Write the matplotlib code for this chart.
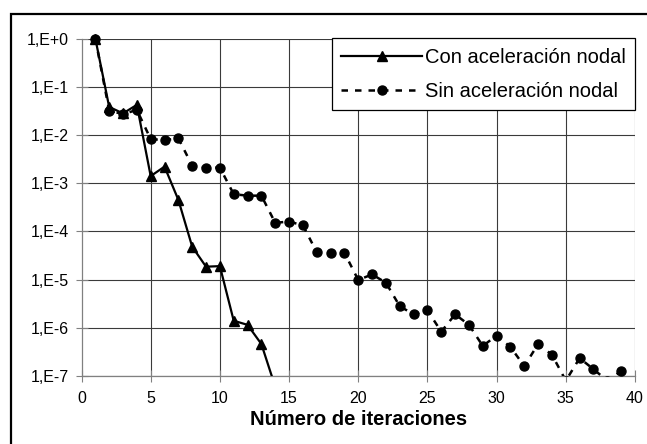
import matplotlib
matplotlib.use("Agg")
import matplotlib.pyplot as plt
from matplotlib.ticker import FixedLocator
from matplotlib.transforms import Bbox, TransformedBbox
from matplotlib.patches import Rectangle

plt.rcParams['font.family'] = ['Liberation Sans', 'DejaVu Sans']

# Data
x_con = list(range(1, 15))
y_con = [1.0, 0.038, 0.028, 0.042, 0.0014, 0.0022, 0.00045, 4.8e-5, 1.85e-5,
         1.9e-5, 1.4e-6, 1.15e-6, 4.6e-7, 6e-8]

x_sin = list(range(1, 40))
y_sin = [1.0, 0.032, 0.027, 0.033, 0.0082, 0.0078, 0.0085, 0.0023, 0.0021, 0.0021,
         0.00059, 0.00055, 0.00055, 1.5e-4, 1.6e-4, 1.33e-4, 3.7e-5, 3.5e-5, 3.6e-5,
         9.8e-6, 1.28e-5, 8.6e-6, 2.8e-6, 1.9e-6, 2.3e-6, 8.3e-7, 1.9e-6, 1.15e-6,
         4.2e-7, 6.9e-7, 4.0e-7, 1.6e-7, 4.6e-7, 2.75e-7, 8e-8, 2.35e-7, 1.38e-7,
         8e-8, 1.26e-7]

label_con = "Con aceleración nodal"
label_sin = "Sin aceleración nodal"
xlabel = "Número de iteraciones"
x_ticks = [0, 5, 10, 15, 20, 25, 30, 35, 40]
y_ticks = [1e0, 1e-1, 1e-2, 1e-3, 1e-4, 1e-5, 1e-6, 1e-7]
y_ticklabels = ["1,E+0", "1,E-1", "1,E-2", "1,E-3", "1,E-4", "1,E-5", "1,E-6", "1,E-7"]

W, H = 647, 444
fig = plt.figure(figsize=(W / 100, H / 100), dpi=100)
fig.patch.set_facecolor('white')

L, R, T, B = 81.5, 635, 38.5, 376
ax = fig.add_axes([L / W, 1 - B / H, (R - L) / W, (B - T) / H])

ax.set_yscale('log')
ax.set_xlim(0, 40)
ax.set_ylim(1e-7, 1)

grid_c = '#3a3a3a'
for yt in y_ticks:
    ax.axhline(yt, color=grid_c, lw=0.8, zorder=1)
for xt in x_ticks[1:]:
    ax.axvline(xt, color=grid_c, lw=0.8, zorder=1)

l1, = ax.plot(x_con, y_con, color='black', lw=1.6, marker='^', markersize=6.5,
              label=label_con, zorder=3)
l2, = ax.plot(x_sin, y_sin, color='black', lw=1.8, linestyle=(0, (2.6, 2.8)),
              marker='o', markersize=6.5, label=label_sin, zorder=3)
cb = TransformedBbox(Bbox([[0, 0], [1, 1.05]]), ax.transAxes)
for ln in (l1, l2):
    ln.set_clip_box(cb)

ax.yaxis.set_major_locator(FixedLocator(y_ticks))
ax.yaxis.set_minor_locator(FixedLocator([]))
ax.set_yticklabels(y_ticklabels)
ax.set_xticks(x_ticks)
ax.tick_params(axis='both', which='major', direction='inout', length=8,
               color='#808080', labelsize=11.5, pad=5, width=0.8)
ax.tick_params(axis='x', pad=7)

for s in ['top', 'right']:
    ax.spines[s].set_visible(False)
for s in ['left', 'bottom']:
    ax.spines[s].set_color('#808080')
    ax.spines[s].set_linewidth(0.9)

leg = ax.legend(loc='upper right', bbox_to_anchor=(1, 1), borderaxespad=0,
                fontsize=14.5, handlelength=4.0, handletextpad=0.15,
                labelspacing=0.75, borderpad=0.45, fancybox=False, framealpha=1,
                edgecolor='black')
leg.get_frame().set_linewidth(0.9)
leg.set_zorder(5)

fig.text((L + R) / 2 / W, 1 - 419 / H, xlabel, ha='center', va='center',
         fontsize=14.5, fontweight='bold')

fig.patches.append(Rectangle((11 / W, -0.1), 2, 1 - 14 / H + 0.1,
                             transform=fig.transFigure, fill=False,
                             edgecolor='black', lw=1.6))

fig.savefig('out.png', dpi=100)
